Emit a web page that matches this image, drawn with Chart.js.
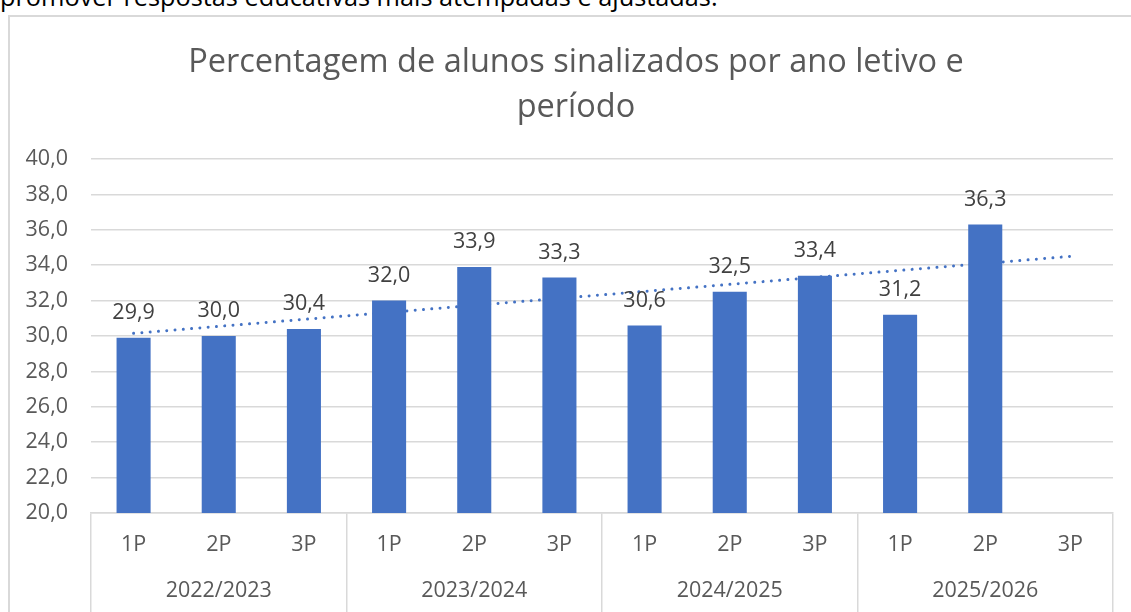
<!DOCTYPE html>
<html>
<head>
<meta charset="utf-8">
<script src="https://cdn.jsdelivr.net/npm/chart.js@4"></script>
<style>
  html, body { margin: 0; padding: 0; background: #fff; overflow: hidden; }
  #page { position: relative; width: 1131px; height: 612px; overflow: hidden; }
  #prev { position: absolute; left: 0; top: -16px; font: 25.3px/25px 'Open Sans', sans-serif; color: #000; white-space: nowrap; }
  #frame { position: absolute; left: 8px; top: 15px; width: 1300px; height: 800px; border: 2px solid #d9d9d9; box-sizing: border-box; }
  #chart { position: absolute; left: 0; top: 0; }
</style>
</head>
<body>
<div id="page">
  <div id="prev">promover respostas educativas mais atempadas e ajustadas.</div>
  <div id="frame"></div>
  <canvas id="chart" width="1131" height="612"></canvas>
</div>
<script>
// Percentagem de alunos sinalizados — barras por período + linha de tendência

const periods = ['1P', '2P', '3P', '1P', '2P', '3P', '1P', '2P', '3P', '1P', '2P', '3P'];
const years   = ['2022/2023', '2023/2024', '2024/2025', '2025/2026'];
const values  = [29.9, 30.0, 30.4, 32.0, 33.9, 33.3, 30.6, 32.5, 33.4, 31.2, 36.3, null];
// tendência linear (início no 1.º período, fim no último)
const trendStart = 30.15;
const trendEnd   = 34.5;

const FONT = "'Open Sans', sans-serif";
const GREY_TXT = '#595959';
const GRID = '#d9d9d9';
const BLUE = '#4472C4';
const TXT = 21.5;

const fmt = v => v.toFixed(1).replace('.', ',');

const trend = periods.map((_, i) => i === 0 ? trendStart : (i === periods.length - 1 ? trendEnd : null));

const valueLabels = {
  id: 'valueLabels',
  afterDatasetsDraw(chart) {
    const ctx = chart.ctx;
    const meta = chart.getDatasetMeta(0);
    ctx.save();
    ctx.font = `${TXT}px ${FONT}`;
    ctx.fillStyle = '#404040';
    ctx.textAlign = 'center';
    ctx.textBaseline = 'middle';
    meta.data.forEach((bar, i) => {
      if (values[i] == null) return;
      ctx.fillText(fmt(values[i]), bar.x, bar.y - 25);
    });
    ctx.restore();
  }
};

// the frame is wider than the window, so the title sits a bit right of the canvas centre
const titleShift = {
  id: 'titleShift',
  afterLayout(chart) {
    if (chart.titleBlock) chart.titleBlock.left = 39;
  }
};

new Chart(document.getElementById('chart'), {
  type: 'bar',
  data: {
    labels: periods,
    datasets: [
      { data: values, backgroundColor: BLUE, barPercentage: 0.4, categoryPercentage: 1.0, order: 0 },
      { type: 'line', data: trend, spanGaps: true, borderColor: BLUE, borderWidth: 3,
        borderDash: [0.01, 8.3], borderCapStyle: 'round', pointRadius: 0, fill: false, order: 1 },
    ],
  },
  options: {
    responsive: false,
    animation: false,
    layout: { padding: { top: 40, right: 18, left: 0, bottom: 0 } },
    plugins: {
      legend: { display: false },
      tooltip: { enabled: false },
      title: {
        display: true,
        text: ['Percentagem de alunos sinalizados por ano letivo e', 'período'],
        color: GREY_TXT,
        font: { family: FONT, size: 32.5, weight: 'normal', lineHeight: 1.385 },
        padding: { top: 0, bottom: 29 },
      },
    },
    scales: {
      y: {
        min: 20, max: 40,
        ticks: { stepSize: 2, padding: 23, color: GREY_TXT, font: { family: FONT, size: TXT }, callback: v => fmt(v) },
        grid: { color: GRID, lineWidth: 1.5, drawTicks: false },
        border: { display: false },
        afterFit: s => { s.width = 91; },
      },
      x: {
        weight: 0,
        offset: true,
        grid: {
          offset: true, drawOnChartArea: false, drawTicks: true, tickLength: 99, lineWidth: 1.5,
          color: c => (c.index === undefined || c.index % 3 === 0) ? GRID : 'rgba(0,0,0,0)',
        },
        border: { display: true, color: GRID, width: 1.5 },
        ticks: { padding: -80, maxRotation: 0, autoSkip: false, color: GREY_TXT, font: { family: FONT, size: TXT } },
        afterFit: s => { s.height = 60; },
      },
      x2: {
        type: 'category',
        labels: years,
        position: 'bottom',
        weight: 1,
        offset: true,
        grid: { display: false, drawTicks: false },
        border: { display: false },
        ticks: { padding: 5, maxRotation: 0, color: GREY_TXT, font: { family: FONT, size: TXT } },
        afterFit: s => { s.height = 39; },
      },
    },
  },
  plugins: [valueLabels, titleShift],
});
</script>
</body>
</html>
